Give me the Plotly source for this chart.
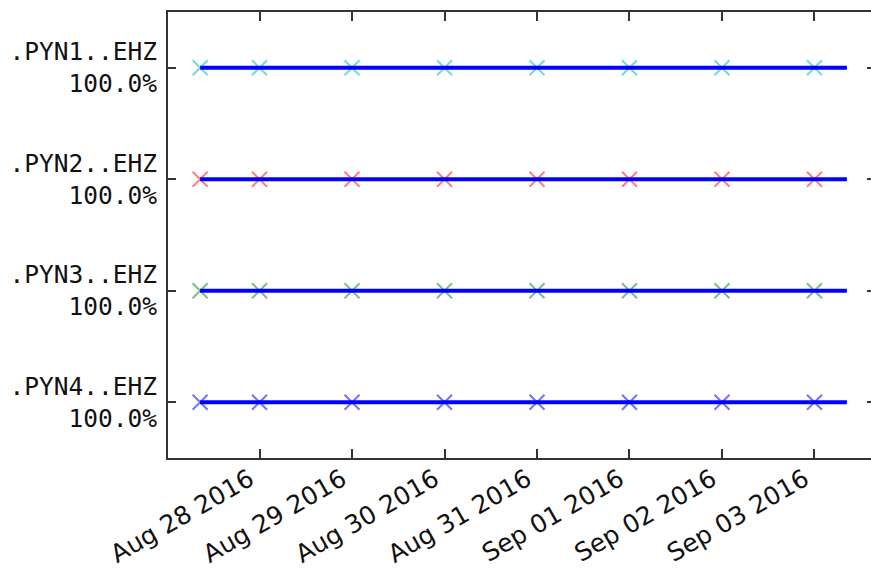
import plotly.graph_objects as go

stations = [".PYN1..EHZ", ".PYN2..EHZ", ".PYN3..EHZ", ".PYN4..EHZ"]
percent = ["100.0%", "100.0%", "100.0%", "100.0%"]
marker_colors = ["rgba(0,190,190,0.55)", "rgba(255,0,0,0.5)", "rgba(0,128,0,0.5)", "rgba(0,0,255,0.55)"]
data_start = "2016-08-27 08:35"
data_end = "2016-09-03 08:25"
file_starts = ["2016-08-27 08:35", "2016-08-28", "2016-08-29", "2016-08-30",
               "2016-08-31", "2016-09-01", "2016-09-02", "2016-09-03"]
tick_dates = ["2016-08-28", "2016-08-29", "2016-08-30", "2016-08-31",
              "2016-09-01", "2016-09-02", "2016-09-03"]
tick_text = ["Aug 28 2016", "Aug 29 2016", "Aug 30 2016", "Aug 31 2016",
             "Sep 01 2016", "Sep 02 2016", "Sep 03 2016"]
x_range = ["2016-08-27 00:15", "2016-09-03 14:40"]

rows = list(range(len(stations)))

fig = go.Figure()
for i, st in enumerate(stations):
    fig.add_trace(go.Scatter(
        x=file_starts, y=[i] * len(file_starts), mode="markers",
        marker=dict(symbol="x-thin", size=15, line=dict(width=2, color=marker_colors[i])),
        showlegend=False, hoverinfo="skip"))
    fig.add_trace(go.Scatter(
        x=[data_start, data_end], y=[i, i], mode="lines",
        line=dict(color="#0000ff", width=4), showlegend=False, hoverinfo="skip"))

# dummy trace for right-side ticks
fig.add_trace(go.Scatter(x=[x_range[0]], y=[0], yaxis="y2", mode="markers",
                         marker=dict(opacity=0), showlegend=False, hoverinfo="skip"))

labels = [f"{s}<br>{p}" for s, p in zip(stations, percent)]

fig.update_layout(
    width=871, height=571,
    margin=dict(l=168, r=0, t=12, b=113, autoexpand=False),
    paper_bgcolor="white", plot_bgcolor="white",
    hovermode=False,
    xaxis=dict(
        type="date", range=x_range, tickvals=tick_dates, ticktext=tick_text,
        tickangle=-30, ticks="inside", ticklen=9, tickwidth=1.5, tickcolor="#333",
        showline=True, linecolor="#333", linewidth=2, mirror="ticks",
        showgrid=False, zeroline=False,
        tickfont=dict(family="DejaVu Sans", size=25, color="#111"),
        ticklabelstandoff=-5, ticklabelshift=-10,
    ),
    yaxis=dict(
        range=[3.5, -0.5], tickvals=rows, ticktext=labels,
        ticks="inside", ticklen=8, tickwidth=1.5, tickcolor="#333",
        showline=True, linecolor="#333", linewidth=2,
        showgrid=False, zeroline=False,
        tickfont=dict(family="DejaVu Sans Mono", size=24.5, color="#111"),
        ticklabelstandoff=4,
    ),
    yaxis2=dict(
        overlaying="y", side="right", range=[3.5, -0.5], tickvals=rows,
        ticks="inside", ticklen=4, tickwidth=1.5, tickcolor="#333",
        showticklabels=False, showline=False, showgrid=False, zeroline=False,
    ),
)

fig.write_html(
    "out.html",
    config={"displayModeBar": False},
    post_script="document.body.style.margin='0';document.body.style.overflow='hidden';",
)
